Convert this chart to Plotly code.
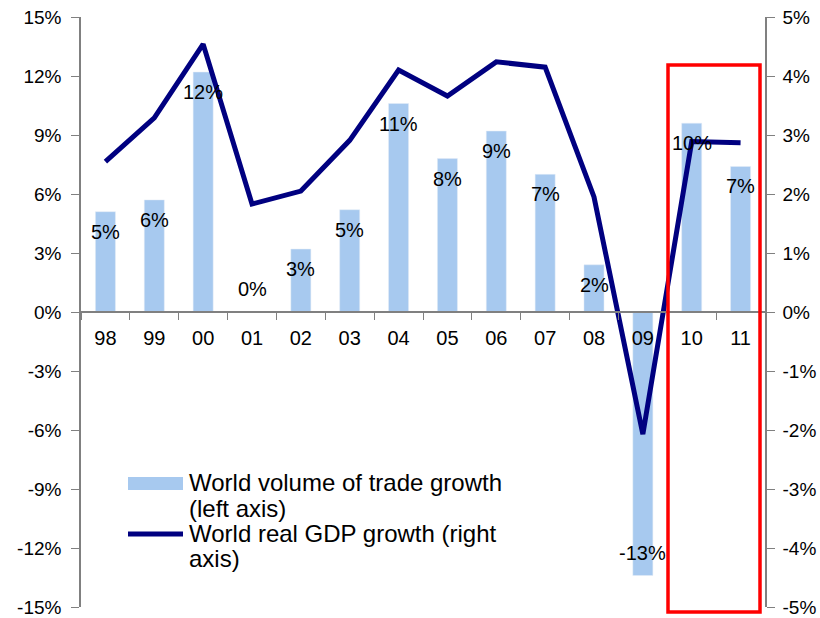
import plotly.graph_objects as go

years = ["98", "99", "00", "01", "02", "03", "04", "05", "06", "07", "08", "09", "10", "11"]
trade_growth = [5.1, 5.7, 12.2, 0.0, 3.2, 5.2, 10.6, 7.8, 9.2, 7.0, 2.4, -13.4, 9.6, 7.4]
gdp_growth = [2.55, 3.29, 4.54, 1.83, 2.05, 2.91, 4.10, 3.66, 4.24, 4.15, 1.95, -2.07, 2.89, 2.87]
left_ticks = [-15, -12, -9, -6, -3, 0, 3, 6, 9, 12, 15]
right_ticks = [-5, -4, -3, -2, -1, 0, 1, 2, 3, 4, 5]
legend_lines = [["World volume of trade growth", "(left axis)"],
                ["World real GDP growth (right", "axis)"]]

FONT = "Liberation Sans, Arial, sans-serif"
BAR_COLOR = "#A7C9EF"
LINE_COLOR = "#000080"
AXIS_COLOR = "#808080"
TICK_SIZE = 19
LABEL_SIZE = 20

# plot area in page pixels
PL, PR, PT, PB = 81, 765, 17, 607
W, H = 820, 618

fig = go.Figure()
fig.add_trace(go.Bar(x=years, y=trade_growth, marker_color=BAR_COLOR, width=0.41,
                     yaxis="y", showlegend=False))
fig.add_trace(go.Scatter(x=years, y=gdp_growth, mode="lines", yaxis="y2",
                         line=dict(color=LINE_COLOR, width=5), showlegend=False))

annotations = []
for i, v in enumerate(trade_growth):
    label = f"{v:.0f}%"
    if label == "-0%":
        label = "0%"
    annotations.append(dict(x=i, y=v, xref="x", yref="y", text=label, showarrow=False,
                            yshift=-20 if v > 0.5 else 23,
                            font=dict(family=FONT, size=LABEL_SIZE, color="black")))

def px_to_paper(px, py):
    return (px - PL) / (PR - PL), (PB - py) / (PB - PT)

shapes = []
x0, y0 = px_to_paper(128, 490)
x1, y1 = px_to_paper(183, 477)
shapes.append(dict(type="rect", xref="paper", yref="paper", x0=x0, x1=x1, y0=y0, y1=y1,
                   fillcolor=BAR_COLOR, line=dict(width=0)))
x0, ys = px_to_paper(128, 534)
x1, _ = px_to_paper(183, 534)
shapes.append(dict(type="line", xref="paper", yref="paper", x0=x0, x1=x1, y0=ys, y1=ys,
                   line=dict(color=LINE_COLOR, width=5)))
line_ys = [[482, 508], [533, 558]]
for entry, ys_px in zip(legend_lines, line_ys):
    for txt, py in zip(entry, ys_px):
        tx, ty = px_to_paper(187, py)
        annotations.append(dict(x=tx, y=ty, xref="paper", yref="paper", text=txt,
                                showarrow=False, xanchor="left", yanchor="middle",
                                font=dict(family=FONT, size=24, color="black")))

rx0, ry0 = px_to_paper(668, 612)
rx1, ry1 = px_to_paper(760, 65)
shapes.append(dict(type="rect", xref="paper", yref="paper", x0=rx0, x1=rx1, y0=ry0, y1=ry1,
                   line=dict(color="#FF0000", width=3.5), layer="above"))

fig.update_layout(
    width=W, height=H,
    margin=dict(l=PL, r=W - PR, t=PT, b=H - PB, autoexpand=False),
    paper_bgcolor="white", plot_bgcolor="white",
    font=dict(family=FONT, size=TICK_SIZE, color="black"),
    xaxis=dict(type="category", range=[-0.5, 13.5], anchor="free", position=0.5,
               automargin=False,
               showline=True, linecolor=AXIS_COLOR, linewidth=1.5,
               ticks="outside", tickson="boundaries", ticklen=7, tickcolor=AXIS_COLOR,
               tickwidth=1, showgrid=False, zeroline=False, ticklabelstandoff=8,
               tickfont=dict(family=FONT, size=LABEL_SIZE, color="black")),
    yaxis=dict(range=[-15, 15], tickvals=left_ticks, ticktext=[f"{t}%" for t in left_ticks],
               automargin=False, ticklabeloverflow="allow", ticklabelstandoff=6,
               showline=True, linecolor=AXIS_COLOR, linewidth=1.5, ticks="outside",
               ticklen=8, tickcolor=AXIS_COLOR, showgrid=False, zeroline=False,
               tickfont=dict(family=FONT, size=TICK_SIZE, color="black")),
    yaxis2=dict(range=[-5, 5], tickvals=right_ticks, ticktext=[f"{t}%" for t in right_ticks],
                overlaying="y", side="right", anchor="x", automargin=False,
                ticklabeloverflow="allow", ticklabelstandoff=4,
                showline=True, linecolor=AXIS_COLOR, linewidth=1.5, ticks="outside",
                ticklen=8, tickcolor=AXIS_COLOR, showgrid=False, zeroline=False,
                tickfont=dict(family=FONT, size=TICK_SIZE, color="black")),
    annotations=annotations,
    shapes=shapes,
)

fig.write_html("out.html", config={"displayModeBar": False},
               post_script="document.body.style.margin='0';")
